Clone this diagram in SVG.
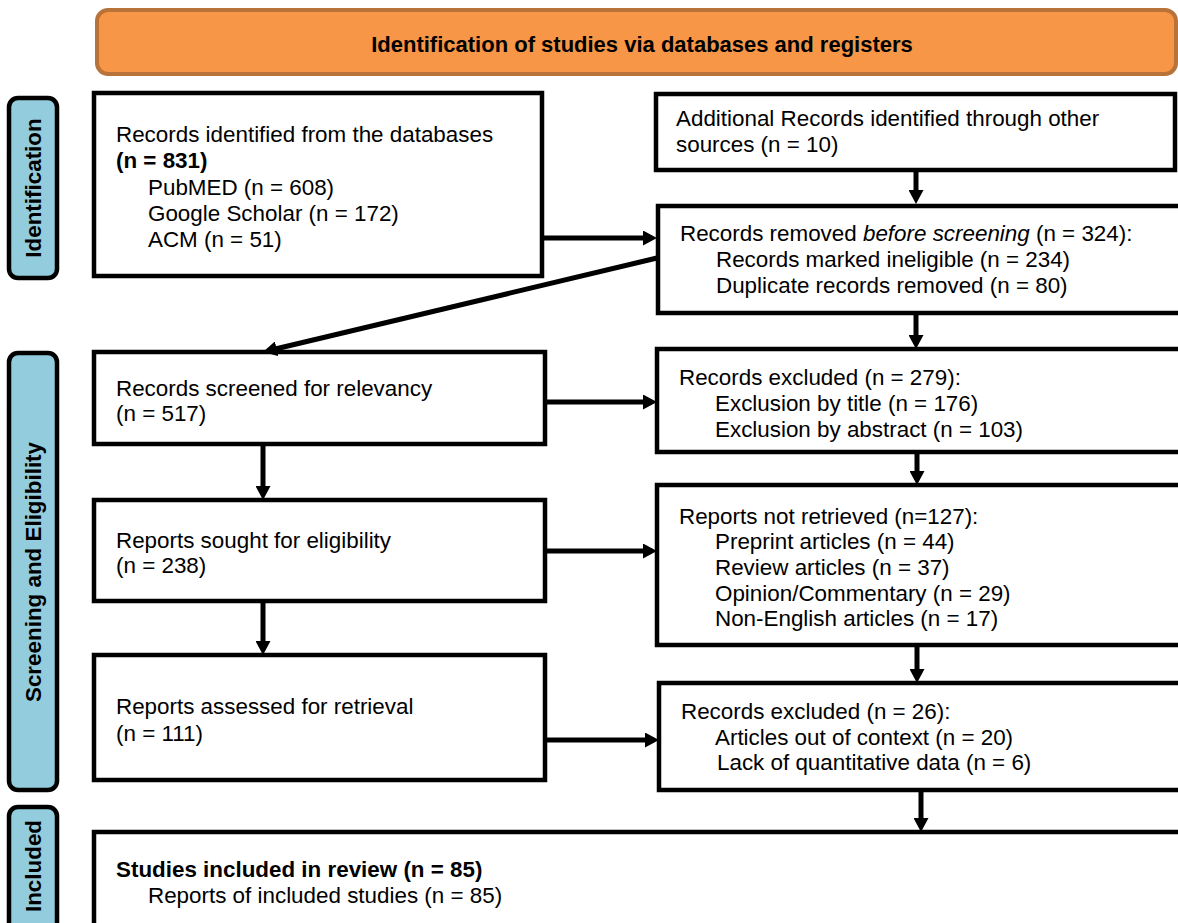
<svg xmlns="http://www.w3.org/2000/svg" width="1178" height="923" viewBox="0 0 1178 923">
<style>
text{font-family:"Liberation Sans",Arial,Helvetica,sans-serif;font-size:22.4px;fill:#000}
.b{font-weight:bold}
.box{fill:#fff;stroke:#000;stroke-width:4.5}
.side rect{fill:#93CDDD;stroke:#000;stroke-width:4.5}
.side text{font-weight:bold;text-anchor:middle;stroke:none;fill:#000}
.arr{stroke:#000;stroke-width:5;fill:none;marker-end:url(#ah)}
</style>
<defs>
<marker id="ah" markerUnits="userSpaceOnUse" markerWidth="14" markerHeight="15" viewBox="0 0 14 15" refX="9" refY="7.5" orient="auto">
<path d="M0,0 L14,7.5 L0,15 z" fill="#000"/>
</marker>
</defs>
<rect width="1178" height="923" fill="#fff"/>

<g id="header">
<rect x="97" y="10" width="1079" height="64" rx="11" fill="#F79646" stroke="#B8733A" stroke-width="4"/>
<text x="642" y="52" class="b" text-anchor="middle" style="font-size:22px">Identification of studies via databases and registers</text>
</g>

<g id="side-identification" class="side">
<rect x="9" y="98" width="48" height="180" rx="9"/>
<text transform="translate(41,188) rotate(-90)">Identification</text>
</g>
<g id="side-screening" class="side">
<rect x="9" y="353" width="48" height="437" rx="9"/>
<text transform="translate(41,572) rotate(-90)">Screening and Eligibility</text>
</g>
<g id="side-included" class="side">
<rect x="9" y="807" width="48" height="140" rx="9"/>
<text transform="translate(41,866) rotate(-90)">Included</text>
</g>

<g id="box-databases">
<rect class="box" x="94" y="93" width="448" height="183"/>
<text x="116" y="142">Records identified from the databases</text>
<text x="116" y="168" class="b">(n = 831)</text>
<text x="148" y="195">PubMED (n = 608)</text>
<text x="148" y="221">Google Scholar (n = 172)</text>
<text x="148" y="247">ACM (n = 51)</text>
</g>

<g id="box-other">
<rect class="box" x="656" y="94" width="519" height="76"/>
<text x="676" y="126">Additional Records identified through other</text>
<text x="676" y="152">sources (n = 10)</text>
</g>

<g id="box-removed">
<rect class="box" x="658" y="206" width="560" height="107"/>
<text x="680" y="241">Records removed <tspan font-style="italic">before screening</tspan> (n = 324):</text>
<text x="716" y="267">Records marked ineligible (n = 234)</text>
<text x="716" y="293">Duplicate records removed (n = 80)</text>
</g>

<g id="box-screened">
<rect class="box" x="94" y="352" width="451" height="92"/>
<text x="116" y="396">Records screened for relevancy</text>
<text x="116" y="421">(n = 517)</text>
</g>

<g id="box-excluded1">
<rect class="box" x="657" y="349" width="560" height="103"/>
<text x="679" y="385">Records excluded (n = 279):</text>
<text x="715" y="411">Exclusion by title (n = 176)</text>
<text x="715" y="437">Exclusion by abstract (n = 103)</text>
</g>

<g id="box-sought">
<rect class="box" x="94" y="500" width="451" height="101"/>
<text x="116" y="548">Reports sought for eligibility</text>
<text x="116" y="573">(n = 238)</text>
</g>

<g id="box-notretrieved">
<rect class="box" x="657" y="485" width="560" height="160"/>
<text x="679" y="524">Reports not retrieved (n=127):</text>
<text x="715" y="549">Preprint articles (n = 44)</text>
<text x="715" y="575">Review articles (n = 37)</text>
<text x="715" y="601">Opinion/Commentary (n = 29)</text>
<text x="715" y="626">Non-English articles (n = 17)</text>
</g>

<g id="box-assessed">
<rect class="box" x="94" y="655" width="451" height="125"/>
<text x="116" y="714">Reports assessed for retrieval</text>
<text x="116" y="741">(n = 111)</text>
</g>

<g id="box-excluded2">
<rect class="box" x="659" y="683" width="560" height="107"/>
<text x="681" y="719">Records excluded (n = 26):</text>
<text x="715" y="745">Articles out of context (n = 20)</text>
<text x="717" y="770">Lack of quantitative data (n = 6)</text>
</g>

<g id="box-included">
<rect class="box" x="94" y="832" width="1130" height="120"/>
<text x="116" y="877" class="b">Studies included in review (n = 85)</text>
<text x="148" y="903">Reports of included studies (n = 85)</text>
</g>

<g id="connectors">
<line class="arr" x1="916" y1="171" x2="916" y2="199"/>
<line class="arr" x1="542" y1="238" x2="652" y2="238"/>
<line class="arr" x1="657" y1="258" x2="267.9" y2="350.8"/>
<line class="arr" x1="916" y1="313" x2="916" y2="344"/>
<line class="arr" x1="545" y1="402" x2="652" y2="402"/>
<line class="arr" x1="917" y1="452" x2="917" y2="480"/>
<line class="arr" x1="263" y1="444" x2="263" y2="495"/>
<line class="arr" x1="545" y1="551" x2="652" y2="551"/>
<line class="arr" x1="917" y1="645" x2="917" y2="678"/>
<line class="arr" x1="263" y1="601" x2="263" y2="650"/>
<line class="arr" x1="545" y1="740" x2="654" y2="740"/>
<line class="arr" x1="921" y1="790" x2="921" y2="827"/>
</g>
</svg>
